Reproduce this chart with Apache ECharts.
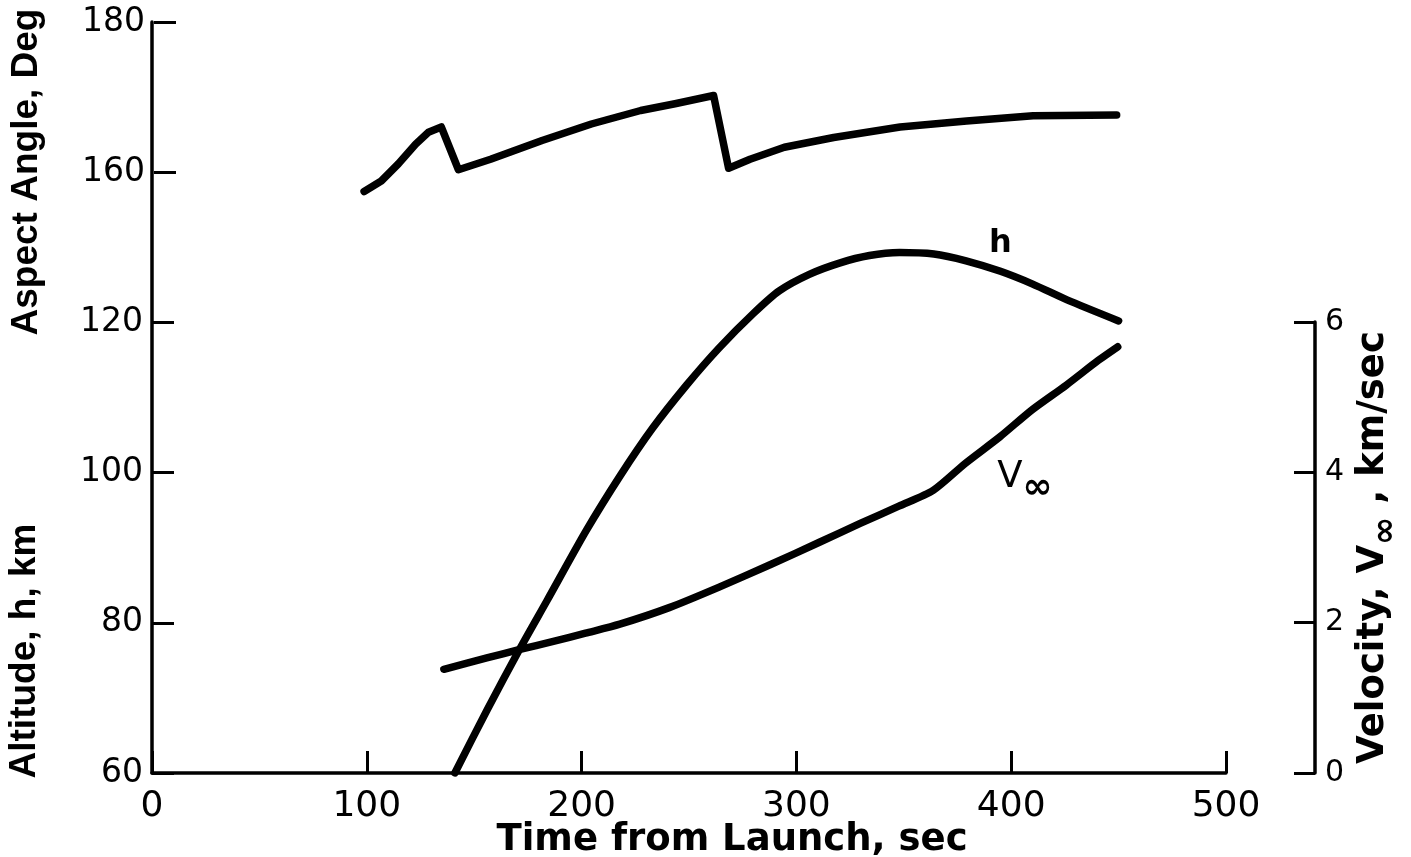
<!DOCTYPE html>
<html>
<head>
<meta charset="utf-8">
<script src="https://cdn.jsdelivr.net/npm/echarts@6.0.0/dist/echarts.min.js"></script>
<style>
  html, body { margin: 0; padding: 0; background: #fff; }
  #chart { width: 1411px; height: 857px; }
</style>
</head>
<body>
<div id="chart"></div>
<script>
// ---- Axis ticks ----
const timeTicks = [0, 100, 200, 300, 400, 500];        // sec
const altitudeTicks = [60, 80, 100, 120];              // km
const aspectTicks = [160, 180];                        // deg
const velocityTicks = [0, 2, 4, 6];                    // km/sec

// ---- Aspect angle vs time ----
const aspectTime = [98, 106, 114, 122, 128, 134, 142, 157, 181, 204, 227, 243, 261, 268, 278, 294, 317, 348, 379, 410, 449];
const aspectDeg  = [157.4, 158.8, 161.1, 163.7, 165.3, 166.0, 160.3, 161.7, 164.2, 166.4, 168.2, 169.1, 170.2, 160.5, 161.7, 163.3, 164.6, 166.0, 166.8, 167.5, 167.6];

// ---- Altitude h vs time ----
const altTime = [141, 156, 171, 184, 202, 218, 233, 249, 264, 280, 292, 306, 320, 334, 348, 364, 379, 395, 410, 426, 450];
const altKm   = [60.0, 68.4, 76.4, 83.0, 92.2, 99.6, 105.9, 111.7, 116.6, 121.2, 124.2, 126.4, 127.9, 128.9, 129.3, 129.1, 128.2, 126.8, 125.1, 123.0, 120.2];

// ---- Velocity V∞ vs time ----
const velTime = [136, 156, 171, 187, 202, 218, 241, 264, 288, 311, 330, 348, 364, 379, 395, 410, 426, 441, 450];
const velKms  = [1.38, 1.53, 1.64, 1.75, 1.86, 1.98, 2.20, 2.47, 2.77, 3.07, 3.32, 3.55, 3.76, 4.12, 4.47, 4.83, 5.16, 5.49, 5.67];

// points on the curves where the curve names are written
const hLabelIndex = 17;
const vLabelIndex = 14;

const zip = (xs, ys) => xs.map((x, i) => [x, ys[i]]);

const INK = '#000';
const NUM_FONT = 'DejaVu Sans';
const curve = { color: INK, width: 7.5, cap: 'round', join: 'round' };

// plotting frame: x from 152 to 1226, y from 22 to 773
const FRAME = { left: 152, width: 1074 };

const hiddenX = (gridIndex) => ({
  type: 'value', gridIndex, min: 0, max: 500, interval: 100, show: false
});

const chart = echarts.init(document.getElementById('chart'), null, { renderer: 'canvas' });

chart.setOption({
  animation: false,
  backgroundColor: '#fff',
  grid: [
    { left: FRAME.left, width: FRAME.width, top: 22, height: 751 },   // altitude (full height)
    { left: FRAME.left, width: FRAME.width, top: 322, height: 451 },  // velocity (lower part)
    { left: FRAME.left, width: FRAME.width, top: 22, height: 300 }    // aspect angle (upper part)
  ],
  xAxis: [
    {
      type: 'value', gridIndex: 0, min: timeTicks[0], max: timeTicks[timeTicks.length - 1], interval: 100,
      axisLine: { show: true, onZero: false, lineStyle: { color: INK, width: 3.5 } },
      axisTick: { show: true, inside: true, length: 22, lineStyle: { color: INK, width: 3 } },
      axisLabel: { show: true, margin: 16, fontFamily: NUM_FONT, fontSize: 36, color: INK },
      splitLine: { show: false }
    },
    hiddenX(1),
    hiddenX(2)
  ],
  yAxis: [
    {
      // altitude, h, km
      type: 'value', gridIndex: 0, position: 'left', min: 60, max: 160, interval: 20,
      axisLine: { show: true, onZero: false, lineStyle: { color: INK, width: 3.5 } },
      axisTick: { show: true, inside: true, length: 22, customValues: altitudeTicks, lineStyle: { color: INK, width: 3 } },
      axisLabel: { show: true, margin: 9, customValues: altitudeTicks, fontFamily: NUM_FONT, fontSize: 33, color: INK },
      splitLine: { show: false }
    },
    {
      // aspect angle, deg
      type: 'value', gridIndex: 2, position: 'left', min: 140, max: 180, interval: 20,
      axisLine: { show: false },
      axisTick: { show: true, inside: true, length: 22, customValues: aspectTicks, lineStyle: { color: INK, width: 3 } },
      axisLabel: { show: true, margin: 9, customValues: aspectTicks, fontFamily: NUM_FONT, fontSize: 33, color: INK },
      splitLine: { show: false },
      name: 'Aspect Angle, Deg',
      nameLocation: 'middle',
      nameGap: 109,
      nameTextStyle: { fontFamily: 'Liberation Sans', fontWeight: 'bold', fontSize: 37, color: INK }
    },
    {
      // velocity, km/sec
      type: 'value', gridIndex: 1, position: 'right', offset: 90, min: 0, max: 6, interval: 2,
      axisLine: { show: true, onZero: false, lineStyle: { color: INK, width: 3.5 } },
      axisTick: { show: true, inside: true, length: 21, customValues: velocityTicks, lineStyle: { color: INK, width: 3 } },
      axisLabel: { show: true, margin: 10, customValues: velocityTicks, fontFamily: NUM_FONT, fontSize: 30, color: INK },
      splitLine: { show: false },
      name: '{t|Velocity, V}{s|∞}{t| , km/sec}',
      nameLocation: 'middle',
      nameGap: 34,
      nameTextStyle: {
        color: INK,
        rich: {
          t: { fontFamily: 'DejaVu Sans', fontWeight: 'bold', fontSize: 37, lineHeight: 40, verticalAlign: 'top', color: INK },
          s: { fontFamily: 'DejaVu Sans', fontWeight: 'bold', fontSize: 34, lineHeight: 48, verticalAlign: 'bottom', color: INK }
        }
      }
    }
  ],
  graphic: [
    {
      type: 'text', x: 732, y: 840,
      style: {
        text: 'Time from Launch, sec', fill: INK,
        font: 'bold 37px "DejaVu Sans"',
        align: 'center', verticalAlign: 'middle', textAlign: 'center', textVerticalAlign: 'middle'
      }
    },
    {
      type: 'text', x: 25, y: 651, rotation: Math.PI / 2,
      style: {
        text: 'Altitude, h, km', fill: INK,
        font: 'bold 37px "Liberation Sans"',
        align: 'center', verticalAlign: 'middle', textAlign: 'center', textVerticalAlign: 'middle'
      }
    }
  ],
  series: [
    {
      name: 'Aspect Angle', type: 'line', xAxisIndex: 2, yAxisIndex: 1,
      data: zip(aspectTime, aspectDeg), showSymbol: false, smooth: false,
      lineStyle: curve, silent: true
    },
    {
      name: 'h', type: 'line', xAxisIndex: 0, yAxisIndex: 0,
      data: zip(altTime, altKm), showSymbol: false, smooth: 0.25,
      lineStyle: curve, silent: true
    },
    {
      name: 'V∞', type: 'line', xAxisIndex: 1, yAxisIndex: 2,
      data: zip(velTime, velKms), showSymbol: false, smooth: 0.25,
      lineStyle: curve, silent: true
    },
    {
      // curve name "h"
      type: 'scatter', xAxisIndex: 0, yAxisIndex: 0, silent: true,
      symbol: 'circle', symbolSize: 1, itemStyle: { color: 'rgba(0,0,0,0)' },
      data: [[altTime[hLabelIndex], altKm[hLabelIndex]]],
      label: {
        show: true, position: 'top', distance: 11, formatter: 'h', opacity: 1,
        fontFamily: 'DejaVu Sans', fontWeight: 'bold', fontSize: 32, color: INK
      }
    },
    {
      // curve name "V∞"
      type: 'scatter', xAxisIndex: 1, yAxisIndex: 2, silent: true,
      symbol: 'circle', symbolSize: 1, itemStyle: { color: 'rgba(0,0,0,0)' },
      data: [[velTime[vLabelIndex], velKms[vLabelIndex]]],
      label: {
        show: true, position: [-2, 22], formatter: '{v|V}{s|∞}', opacity: 1,
        color: INK,
        rich: {
          v: { fontFamily: 'DejaVu Sans', fontSize: 37, lineHeight: 36, verticalAlign: 'top', color: INK },
          s: { fontFamily: 'DejaVu Sans', fontWeight: 'bold', fontSize: 36, lineHeight: 48, verticalAlign: 'bottom', color: INK }
        }
      }
    }
  ]
});
</script>
</body>
</html>
